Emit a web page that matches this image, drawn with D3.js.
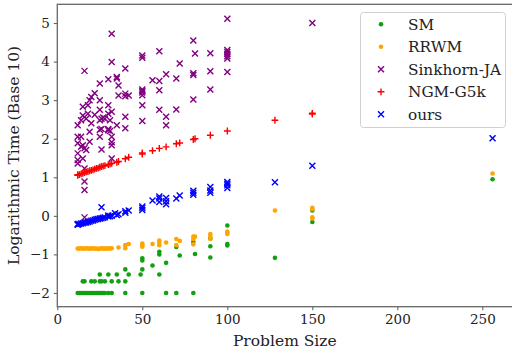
<!DOCTYPE html>
<html>
<head>
<meta charset="utf-8">
<script src="https://cdn.jsdelivr.net/npm/d3@7"></script>
<style>
  body { margin: 0; background: #fff; }
  svg text { font-family: "DejaVu Serif", serif; fill: #222; }
</style>
</head>
<body>
<div id="chart"></div>
<script>
// [problem size, log10 time]
const smPts = [
  [12,-2],[13,-2],[14,-2],[15,-2],[16,-2],[17,-2],[18,-2],[19,-2],[20,-2],[21,-2],[22,-2],[23,-2],
  [24,-2],[25,-2],[26,-2],[27,-2],[28,-2],[30,-2],[32,-2],[40,-2],[50,-2],[64,-2],[70,-2],[80,-2],
  [15,-1.7],[16,-1.7],[20,-1.7],[22,-1.7],[25,-1.7],[26,-1.7],[28,-1.7],[32,-1.7],[36,-1.7],[40,-1.7],
  [25,-1.52],[30,-1.52],[35,-1.52],[42,-1.52],[49,-1.52],[60,-1.52],
  [40,-1.39],[50,-1.39],[50,-1.1],[50,-1.16],[56,-1.29],[60,-0.93],[60,-1.0],[64,-1.22],
  [70,-0.81],[72,-1.03],[80,-0.68],[81,-0.99],[90,-0.58],[90,-0.79],[90,-1.08],
  [100,-0.25],[100,-0.73],[100,-0.77],[128,-1.09],[150,0.14],[150,-0.16],[256,0.95]
];
const rrwmPts = [
  [12,-0.85],[13,-0.85],[14,-0.84],[15,-0.85],[16,-0.85],[17,-0.84],[18,-0.85],[19,-0.85],[20,-0.85],
  [21,-0.84],[22,-0.85],[23,-0.85],[24,-0.86],[25,-0.85],[26,-0.84],[27,-0.85],[28,-0.85],[29,-0.85],
  [30,-0.84],[31,-0.85],[32,-0.84],[36,-0.82],[40,-0.76],[40,-0.84],[42,-0.73],
  [50,-0.72],[50,-0.76],[50,-0.8],[56,-0.73],[60,-0.64],[60,-0.7],[60,-0.76],[64,-0.69],
  [70,-0.6],[70,-0.76],[72,-0.65],[80,-0.54],[80,-0.6],[80,-0.74],[81,-0.54],
  [90,-0.47],[90,-0.52],[90,-0.6],[100,-0.41],[100,-0.44],[100,-0.47],
  [128,0.14],[150,0.21],[150,0.17],[150,-0.07],[150,-0.04],[256,1.1]
];
const sinkPts = [
  [32,4.72],[16,3.76],[32,3.99],[50,4.1],[50,4.16],[60,4.27],[80,4.55],[81,4.21],[90,4.22],
  [100,5.11],[100,4.3],[100,4.25],[100,4.2],[100,4.14],[100,4.08],[100,3.73],[90,3.75],[90,3.28],
  [80,3.65],[80,3.7],[80,3.02],[72,3.95],[70,3.56],[70,2.76],[64,3.67],[60,3.5],[56,3.52],
  [60,3.26],[60,2.75],[64,2.57],[64,2.35],[50,3.28],[50,3.24],[50,3.2],[50,3.13],[50,2.87],[50,2.46],
  [40,3.82],[40,3.1],[40,3.17],[40,2.57],[40,2.27],[42,3.12],[35,3.56],[35,3.6],[36,3.38],[36,3.12],
  [35,2.35],[30,3.54],[30,2.87],[30,2.65],[31,2.48],[32,2.7],[32,2.05],[32,1.91],[32,1.83],[32,1.49],
  [30,2.25],[30,2.22],[25,3.43],[22,3.18],[20,3.08],[19,3.0],[25,3.0],[18,2.87],[18,2.65],[17,2.52],
  [15,2.83],[15,2.6],[14,2.48],[12,2.35],[12,2.05],[12,1.88],[12,1.62],[12,1.45],[12,1.36],
  [14,2.05],[14,1.79],[15,1.83],[15,1.49],[16,1.75],[17,1.71],[19,1.92],[19,2.18],[20,2.4],
  [22,2.62],[25,2.75],[25,2.48],[26,2.52],[26,2.25],[25,2.23],[25,2.05],[26,1.72],[27,2.55],
  [28,2.52],[31,2.2],[16,1.23],[16,0.89],[16,0.67],[16,-0.04],[150,5.0]
];
const ngmPts = [
  [12,1.05],[12,1.07],[13,1.07],[14,1.09],[15,1.1],[16,1.12],[17,1.14],[18,1.15],[19,1.17],
  [20,1.18],[21,1.19],[22,1.21],[23,1.23],[24,1.24],[25,1.26],[26,1.28],[27,1.29],[28,1.3],
  [30,1.33],[31,1.34],[32,1.36],[35,1.39],[36,1.41],[40,1.48],[42,1.52],[50,1.6],[50,1.63],
  [56,1.69],[60,1.75],[64,1.79],[70,1.87],[72,1.89],[80,1.98],[81,2.0],[90,2.09],[100,2.2],
  [128,2.48],[150,2.64],[150,2.66]
];
const oursPts = [
  [12,-0.23],[12,-0.21],[13,-0.21],[14,-0.2],[15,-0.19],[16,-0.18],[17,-0.17],[18,-0.16],[19,-0.15],
  [20,-0.13],[21,-0.12],[22,-0.1],[23,-0.09],[24,-0.08],[25,-0.07],[26,0.22],[26,-0.06],[27,-0.05],
  [28,-0.04],[30,-0.02],[30,0.01],[31,-0.01],[32,0.0],[34,0.07],[35,0.02],[36,0.04],[40,0.08],
  [40,0.12],[42,0.14],[50,0.15],[50,0.2],[50,0.24],[56,0.4],[60,0.36],[60,0.45],[60,0.5],
  [64,0.3],[64,0.38],[64,0.46],[70,0.45],[72,0.53],[80,0.55],[80,0.6],[80,0.65],[90,0.6],
  [90,0.66],[90,0.75],[100,0.72],[100,0.79],[100,0.83],[100,0.88],[128,0.87],[150,1.3],[256,2.01]
];

const seriesNames = ['SM', 'RRWM', 'Sinkhorn-JA', 'NGM-G5k', 'ours'];
const xTicks = [0, 50, 100, 150, 200, 250];
const yTicks = [-2, -1, 0, 1, 2, 3, 4, 5];

const series = [
  {name: seriesNames[0], pts: smPts, color: '#10a010', shape: 'dot'},
  {name: seriesNames[1], pts: rrwmPts, color: '#ffa500', shape: 'dot'},
  {name: seriesNames[2], pts: sinkPts, color: '#800080', shape: 'x'},
  {name: seriesNames[3], pts: ngmPts, color: '#ff0000', shape: 'plus'},
  {name: seriesNames[4], pts: oursPts, color: '#0000ff', shape: 'x'}
];

const width = 512, height = 350;
const mLeft = 57.3, mRight = 513.3, mTop = 4.3, mBottom = 306.7;

const svg = d3.select('#chart').append('svg')
    .attr('width', width)
    .attr('height', height);

const x = d3.scaleLinear().domain([0, 268.2]).range([mLeft, mRight]);
const y = d3.scaleLinear().domain([-2.357, 5.487]).range([mBottom, mTop]);

// markers
const drawMarker = (g, shape, color) => {
  if (shape === 'dot') {
    g.append('circle').attr('r', 2.3).attr('fill', color);
  } else if (shape === 'x') {
    g.append('path').attr('d', 'M-3,-3L3,3M-3,3L3,-3')
        .attr('stroke', color).attr('stroke-width', 1.4).attr('fill', 'none');
  } else {
    g.append('path').attr('d', 'M-3.4,0H3.4M0,-3.4V3.4')
        .attr('stroke', color).attr('stroke-width', 1.4).attr('fill', 'none');
  }
};

const plot = svg.append('g');
series.forEach(s => {
  plot.append('g').selectAll('g')
      .data(s.pts)
      .join('g')
      .attr('transform', d => `translate(${x(d[0])},${y(d[1])})`)
      .each(function() { drawMarker(d3.select(this), s.shape, s.color); });
});

// axes
const xAxis = svg.append('g')
    .attr('transform', `translate(0,${mBottom})`)
    .call(d3.axisBottom(x).tickValues(xTicks).tickSize(3.5).tickPadding(4));
const yAxis = svg.append('g')
    .attr('transform', `translate(${mLeft},0)`)
    .call(d3.axisLeft(y).tickValues(yTicks).tickSize(3.5).tickPadding(4)
      .tickFormat(d => d < 0 ? '\u2212' + Math.abs(d) : d));

[xAxis, yAxis].forEach(a => {
  a.select('.domain').remove();
  a.selectAll('line').attr('stroke', '#444').attr('stroke-width', 0.9);
  a.selectAll('text').style('font-size', '13.5px').attr('fill', '#222');
});

// frame
svg.append('rect')
    .attr('x', mLeft).attr('y', mTop)
    .attr('width', mRight - mLeft).attr('height', mBottom - mTop)
    .attr('fill', 'none').attr('stroke', '#666').attr('stroke-width', 1.3);

svg.append('text')
    .attr('x', (mLeft + mRight) / 2 - 0.5)
    .attr('y', 346)
    .attr('text-anchor', 'middle')
    .style('font-size', '15.5px')
    .text('Problem Size');

svg.append('text')
    .attr('transform', `translate(19,${(mTop + mBottom) / 2}) rotate(-90)`)
    .attr('text-anchor', 'middle')
    .style('font-size', '15.5px')
    .text('Logarithmic Time (Base 10)');

// legend
const legend = svg.append('g');
legend.append('rect')
    .attr('x', 360.5).attr('y', 12.5)
    .attr('width', 145).attr('height', 115)
    .attr('rx', 3)
    .attr('fill', 'rgba(255,255,255,0.8)')
    .attr('stroke', '#d0d0d0');

series.forEach((s, i) => {
  const yy = 24.3 + i * 22.5;
  drawMarker(legend.append('g').attr('transform', `translate(381,${yy})`), s.shape, s.color);
  legend.append('text')
      .attr('x', 408).attr('y', yy + 5.3)
      .style('font-size', '15.3px')
      .text(s.name);
});
</script>
</body>
</html>
